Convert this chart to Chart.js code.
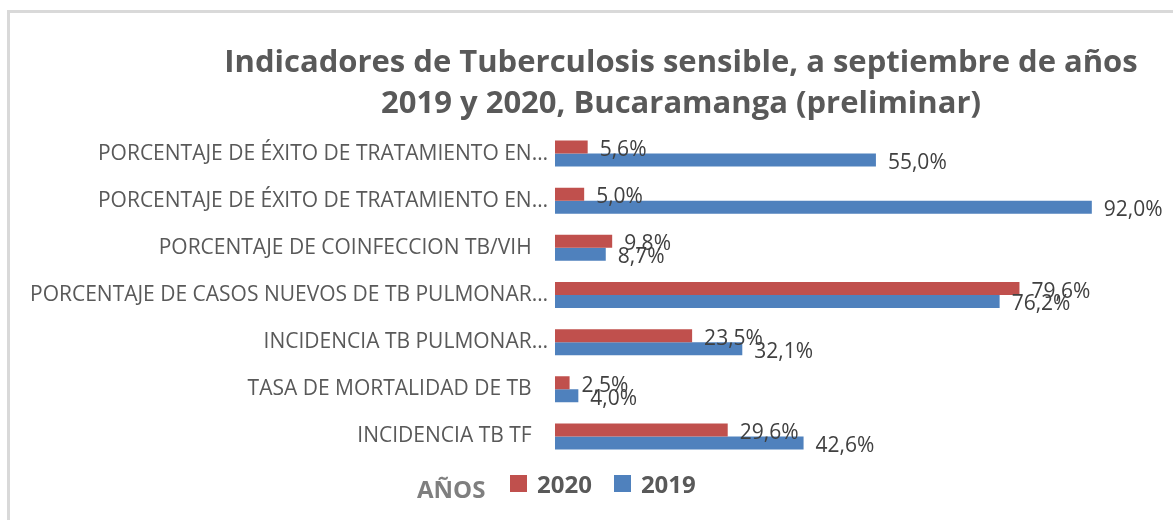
<!DOCTYPE html>
<html><head><meta charset="utf-8">
<script src="https://cdn.jsdelivr.net/npm/chart.js@4.4.1/dist/chart.umd.min.js"></script>
<style>
html,body{margin:0;padding:0;background:#fff;}
#wrap{position:relative;width:1173px;height:520px;overflow:hidden;font-family:"Open Sans",sans-serif;}
#frame{position:absolute;left:7px;top:10px;width:1300px;height:700px;border:3px solid #d9d9d9;box-sizing:border-box;}
canvas{position:absolute;left:0;top:0;}
#title{position:absolute;left:0;top:40px;width:1362px;text-align:center;white-space:nowrap;color:#595959;font-weight:700;font-size:31px;line-height:41px;}
#axisName{position:absolute;left:417px;top:472px;color:#7f7f7f;font-weight:700;font-size:24px;line-height:33px;white-space:nowrap;}
#legend{position:absolute;left:510px;top:467px;height:33px;display:flex;align-items:center;color:#595959;font-weight:700;font-size:24px;white-space:nowrap;}
.lg-item{display:flex;align-items:center;margin-right:22px;}
.lg-box{width:17px;height:17px;margin-right:10px;}
</style>
</head><body>
<div id="wrap">
  <div id="frame"></div>
  <canvas id="c" width="1173" height="520"></canvas>
  <div id="title">Indicadores de Tuberculosis sensible, a septiembre de años<br>2019 y 2020, Bucaramanga (preliminar)</div>
  <div id="axisName">AÑOS</div>
  <div id="legend"></div>
</div>
<script>
const categories = [
  "PORCENTAJE DE ÉXITO DE TRATAMIENTO EN…",
  "PORCENTAJE DE ÉXITO DE TRATAMIENTO EN…",
  "PORCENTAJE DE COINFECCION TB/VIH   ",
  "PORCENTAJE DE CASOS NUEVOS DE TB PULMONAR…",
  "INCIDENCIA TB PULMONAR…",
  "TASA DE MORTALIDAD DE TB   ",
  "INCIDENCIA TB TF   "
];
const values2020 = [5.6, 5.0, 9.8, 79.6, 23.5, 2.5, 29.6];
const values2019 = [55.0, 92.0, 8.7, 76.2, 32.1, 4.0, 42.6];
const seriesNames = ["2020", "2019"];

function fmt(v){ return v.toFixed(1).replace('.', ',') + '%'; }

const valueLabels = {
  id: 'valueLabels',
  afterDatasetsDraw(chart){
    const ctx = chart.ctx;
    ctx.save();
    ctx.font = '21px "Open Sans"';
    ctx.fillStyle = '#404040';
    ctx.textAlign = 'left';
    ctx.textBaseline = 'alphabetic';
    chart.data.datasets.forEach((ds, i) => {
      chart.getDatasetMeta(i).data.forEach((bar, j) => {
        ctx.fillText(fmt(ds.data[j]), bar.x + 12, bar.y + 9);
      });
    });
    ctx.restore();
  }
};

const chart = new Chart(document.getElementById('c'), {
  type: 'bar',
  data: {
    labels: categories,
    datasets: [
      { label: seriesNames[0], data: values2020, backgroundColor: '#C0504D', borderWidth: 0 },
      { label: seriesNames[1], data: values2019, backgroundColor: '#4F81BD', borderWidth: 0 }
    ]
  },
  options: {
    indexAxis: 'y',
    responsive: false,
    animation: false,
    devicePixelRatio: 1,
    categoryPercentage: 0.5515,
    barPercentage: 1,
    layout: { padding: { top: 130, bottom: 60, left: 0, right: 34.5 } },
    plugins: { legend: { display: false }, title: { display: false }, tooltip: { enabled: false } },
    scales: {
      x: { display: false, min: 0, max: 100 },
      y: {
        grid: { display: false, drawTicks: false },
        border: { display: false },
        ticks: { color: '#595959', font: { family: 'Open Sans', size: 21 }, padding: 7, autoSkip: false },
        afterFit(scale){ scale.width = 555; }
      }
    }
  },
  plugins: [valueLabels]
});

const lg = document.getElementById('legend');
chart.data.datasets.forEach(ds => {
  const item = document.createElement('div');
  item.className = 'lg-item';
  const box = document.createElement('div');
  box.className = 'lg-box';
  box.style.background = ds.backgroundColor;
  const t = document.createElement('span');
  t.textContent = ds.label;
  item.appendChild(box); item.appendChild(t);
  lg.appendChild(item);
});
</script>
</body></html>
